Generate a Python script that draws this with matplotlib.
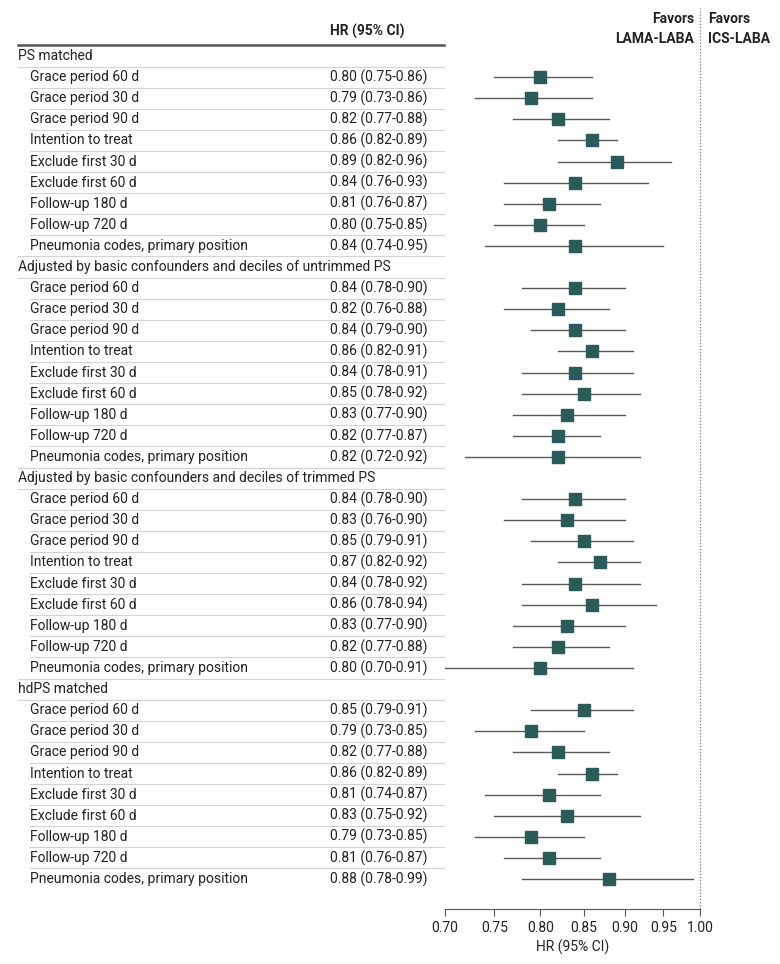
import numpy as np
import matplotlib.pyplot as plt
import matplotlib.transforms as mtransforms

plt.rcParams['font.family'] = ['Roboto', 'DejaVu Sans']

groups = ["PS matched",
          "Adjusted by basic confounders and deciles of untrimmed PS",
          "Adjusted by basic confounders and deciles of trimmed PS",
          "hdPS matched"]
analyses = ["Grace period 60 d", "Grace period 30 d", "Grace period 90 d",
            "Intention to treat", "Exclude first 30 d", "Exclude first 60 d",
            "Follow-up 180 d", "Follow-up 720 d", "Pneumonia codes, primary position"]

hr = [[0.80, 0.79, 0.82, 0.86, 0.89, 0.84, 0.81, 0.80, 0.84],
      [0.84, 0.82, 0.84, 0.86, 0.84, 0.85, 0.83, 0.82, 0.82],
      [0.84, 0.83, 0.85, 0.87, 0.84, 0.86, 0.83, 0.82, 0.80],
      [0.85, 0.79, 0.82, 0.86, 0.81, 0.83, 0.79, 0.81, 0.88]]
lo = [[0.75, 0.73, 0.77, 0.82, 0.82, 0.76, 0.76, 0.75, 0.74],
      [0.78, 0.76, 0.79, 0.82, 0.78, 0.78, 0.77, 0.77, 0.72],
      [0.78, 0.76, 0.79, 0.82, 0.78, 0.78, 0.77, 0.77, 0.70],
      [0.79, 0.73, 0.77, 0.82, 0.74, 0.75, 0.73, 0.76, 0.78]]
hi = [[0.86, 0.86, 0.88, 0.89, 0.96, 0.93, 0.87, 0.85, 0.95],
      [0.90, 0.88, 0.90, 0.91, 0.91, 0.92, 0.90, 0.87, 0.92],
      [0.90, 0.90, 0.91, 0.92, 0.92, 0.94, 0.90, 0.88, 0.91],
      [0.91, 0.85, 0.88, 0.89, 0.87, 0.92, 0.85, 0.87, 0.99]]
xticks = [0.70, 0.75, 0.80, 0.85, 0.90, 0.95, 1.00]

W, H = 780, 964
fig = plt.figure(figsize=(W / 100, H / 100), dpi=100)
ax_l, ax_r, ax_t, ax_b = 445, 700, 8, 909
ax = fig.add_axes([ax_l / W, 1 - ax_b / H, (ax_r - ax_l) / W, (ax_b - ax_t) / H])

# build row list
rows = []
for g in range(len(groups)):
    rows.append(("group", groups[g], None))
    for a in range(len(analyses)):
        rows.append(("sub", analyses[a], (hr[g][a], lo[g][a], hi[g][a])))

n = len(rows)
ax.set_xscale("log")
ax.set_xlim(0.70, 1.00)
ax.set_ylim(n - 1 + 1.42, -2.275)

trans = mtransforms.blended_transform_factory(fig.transFigure, ax.transData)
fs = 10
tc = "#222222"
box_col = "#2b5b59"

for i, (kind, label, vals) in enumerate(rows):
    if kind == "group":
        ax.text(18 / W, i, label, transform=trans, va="center", ha="left", fontsize=fs, color=tc)
    else:
        ax.text(30 / W, i, label, transform=trans, va="center", ha="left", fontsize=fs, color=tc)
        h, l, u = vals
        ax.text(330 / W, i, "%.2f (%.2f-%.2f)" % (h, l, u), transform=trans,
                va="center", ha="left", fontsize=fs, color=tc)
        ax.plot([l, u], [i, i], color="#5a5a5a", lw=1, zorder=2)
        ax.plot(h, i, marker="s", ms=8.5, color=box_col, mec=box_col, zorder=3)
    # separator below
    if i < n - 1:
        x0 = 30 if (kind == "sub" and rows[i + 1][0] == "sub") else 18
        ax.plot([x0 / W, 444 / W], [i + 0.5, i + 0.5], transform=trans,
                color="#d4d4d0", lw=0.8, clip_on=False)

# header
ax.plot([18 / W, 444 / W], [-0.5, -0.5], transform=trans, color="#555555", lw=1.8, clip_on=False)
ax.text(330 / W, -1.15, "HR (95% CI)", transform=trans, va="center", ha="left",
        fontsize=fs, fontweight="bold", color=tc)
ax.text(694 / W, 1 - 19 / H, "Favors", transform=fig.transFigure, ha="right", va="center",
        fontsize=fs, fontweight="bold", color=tc)
ax.text(694 / W, 1 - 39 / H, "LAMA-LABA", transform=fig.transFigure, ha="right", va="center",
        fontsize=fs, fontweight="bold", color=tc)
ax.text(708 / W, 1 - 19 / H, "Favors", transform=fig.transFigure, ha="left", va="center",
        fontsize=fs, fontweight="bold", color=tc)
ax.text(708 / W, 1 - 39 / H, "ICS-LABA", transform=fig.transFigure, ha="left", va="center",
        fontsize=fs, fontweight="bold", color=tc)

ax.axvline(1.0, color="#777777", lw=0.9, ls=(0, (1, 1.5)), clip_on=False, zorder=1)

for s in ["top", "right", "left"]:
    ax.spines[s].set_visible(False)
ax.spines["bottom"].set_color("#555555")
ax.set_yticks([])
ax.set_xticks(xticks)
ax.set_xticklabels(["%.2f" % t for t in xticks])
ax.minorticks_off()
ax.tick_params(axis="x", length=5, color="#555555", labelsize=fs, labelcolor=tc, pad=4)
ax.set_xlabel("HR (95% CI)", fontsize=fs, color=tc, labelpad=3)

fig.savefig("out.png", dpi=100)
